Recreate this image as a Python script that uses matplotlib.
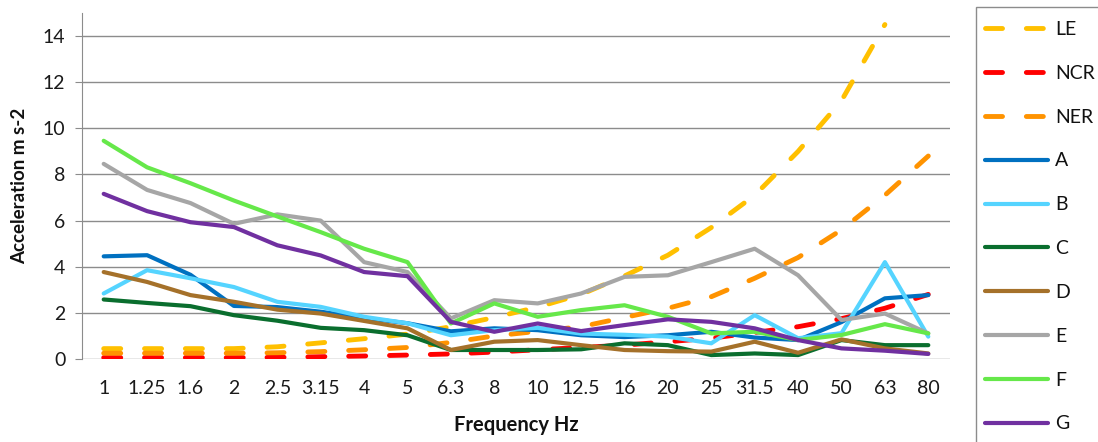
import matplotlib
matplotlib.use("Agg")
import matplotlib.pyplot as plt
from matplotlib.patches import Rectangle

plt.rcParams['font.family'] = ['Lato', 'DejaVu Sans']

# frequency bands (categories on the x axis)
freqs = ["1", "1.25", "1.6", "2", "2.5", "3.15", "4", "5", "6.3", "8",
         "10", "12.5", "16", "20", "25", "31.5", "40", "50", "63", "80"]

# limit curves (dashed); LE at 80 Hz is off the chart
nan = float("nan")
le = [0.45, 0.45, 0.45, 0.45, 0.53, 0.7, 0.88, 1.08, 1.4, 1.8,
      2.25, 2.8, 3.6, 4.5, 5.7, 7.1, 9.0, 11.2, 14.5, nan]
ncr = [0.06, 0.06, 0.06, 0.06, 0.07, 0.1, 0.13, 0.17, 0.22, 0.3,
       0.4, 0.5, 0.6, 0.75, 0.9, 1.15, 1.4, 1.75, 2.2, 2.8]
ner = [0.25, 0.25, 0.25, 0.25, 0.27, 0.32, 0.4, 0.5, 0.72, 1.0,
       1.2, 1.4, 1.8, 2.2, 2.7, 3.5, 4.4, 5.6, 7.1, 8.8]

# measured series
a = [4.45, 4.5, 3.65, 2.3, 2.25, 2.05, 1.78, 1.55, 1.2, 1.33,
     1.25, 1.03, 0.95, 1.03, 1.18, 0.93, 0.82, 1.6, 2.63, 2.77]
b = [2.84, 3.85, 3.5, 3.12, 2.48, 2.26, 1.83, 1.55, 1.03, 1.25,
     1.35, 1.1, 1.05, 0.97, 0.68, 1.9, 0.9, 1.12, 4.2, 0.97]
c = [2.58, 2.43, 2.29, 1.9, 1.66, 1.35, 1.25, 1.03, 0.39, 0.39,
     0.39, 0.42, 0.68, 0.6, 0.17, 0.24, 0.17, 0.82, 0.6, 0.6]
d = [3.77, 3.34, 2.77, 2.48, 2.14, 1.97, 1.65, 1.33, 0.39, 0.75,
     0.82, 0.6, 0.39, 0.34, 0.32, 0.75, 0.27, 0.85, 0.46, 0.24]
e = [8.46, 7.33, 6.76, 5.86, 6.27, 6.0, 4.2, 3.77, 1.76, 2.55,
     2.41, 2.84, 3.56, 3.63, 4.2, 4.78, 3.63, 1.69, 1.97, 1.11]
f = [9.46, 8.31, 7.62, 6.87, 6.18, 5.5, 4.78, 4.2, 1.54, 2.41,
     1.83, 2.12, 2.33, 1.83, 1.11, 1.18, 0.82, 1.04, 1.51, 1.11]
g = [7.16, 6.41, 5.93, 5.72, 4.93, 4.49, 3.77, 3.59, 1.61, 1.18,
     1.54, 1.21, 1.47, 1.72, 1.61, 1.33, 0.82, 0.46, 0.36, 0.22]

dashed = [("LE", le, "#FFC000"), ("NCR", ncr, "#FF0000"), ("NER", ner, "#FF9300")]
solid = [("A", a, "#0070C0"), ("B", b, "#55D4FF"), ("C", c, "#0A6E2E"),
         ("D", d, "#A5712A"), ("E", e, "#A6A6A6"), ("F", f, "#66E84A"),
         ("G", g, "#7030A0")]

fig = plt.figure(figsize=(10.98, 4.42), dpi=100)
ax = fig.add_axes([82 / 1098, 1 - 359 / 442, 868 / 1098, 346 / 442])

x = list(range(len(freqs)))
handles = []
for name, vals, col in dashed:
    ln, = ax.plot(x, vals, color=col, lw=3.5, dashes=(3.5, 4.9),
                  dash_capstyle="round", label=name)
    handles.append(ln)
for name, vals, col in solid:
    ln, = ax.plot(x, vals, color=col, lw=3.0, solid_capstyle="round",
                  solid_joinstyle="round", label=name)
    handles.append(ln)

ax.set_xlim(-0.5, 19.5)
ax.set_ylim(0, 15)
ax.set_yticks(range(0, 15, 2))
ax.set_xticks(x)
ax.set_xticklabels(freqs)
ax.grid(axis="y", color="#8C8C8C", lw=1.0)
ax.set_axisbelow(True)
for s in ["top", "right", "bottom"]:
    ax.spines[s].set_visible(False)
ax.spines["left"].set_color("#8C8C8C")
ax.tick_params(axis="y", length=5, color="#8C8C8C", pad=7, labelsize=14,
               labelcolor="#1a1a1a")
ax.tick_params(axis="x", length=0, pad=15, labelsize=14, labelcolor="#1a1a1a")

fig.text(20 / 1098, 1 - 186 / 442, "Acceleration m s-2", rotation=90,
         ha="center", va="center", fontsize=13.5, fontweight="bold", color="#111111")
fig.text(516 / 1098, 1 - 425 / 442, "Frequency Hz", ha="center", va="center",
         fontsize=14.5, fontweight="bold", color="#111111")

# legend box runs past the right and bottom edge of the image
fig.patches.append(Rectangle((976 / 1098, -0.05), 0.2, 1 - 7 / 442 + 0.05,
                             transform=fig.transFigure, fill=False,
                             edgecolor="#8C8C8C", lw=1.0))
fig.legend(handles=handles, loc="upper left",
           bbox_to_anchor=(985 / 1098, 1 - 21 / 442), frameon=False,
           fontsize=14, handlelength=3.25, handletextpad=0.36, labelspacing=1.38,
           borderaxespad=0, borderpad=0, labelcolor="#111111")

fig.savefig("out.png", dpi=100)
